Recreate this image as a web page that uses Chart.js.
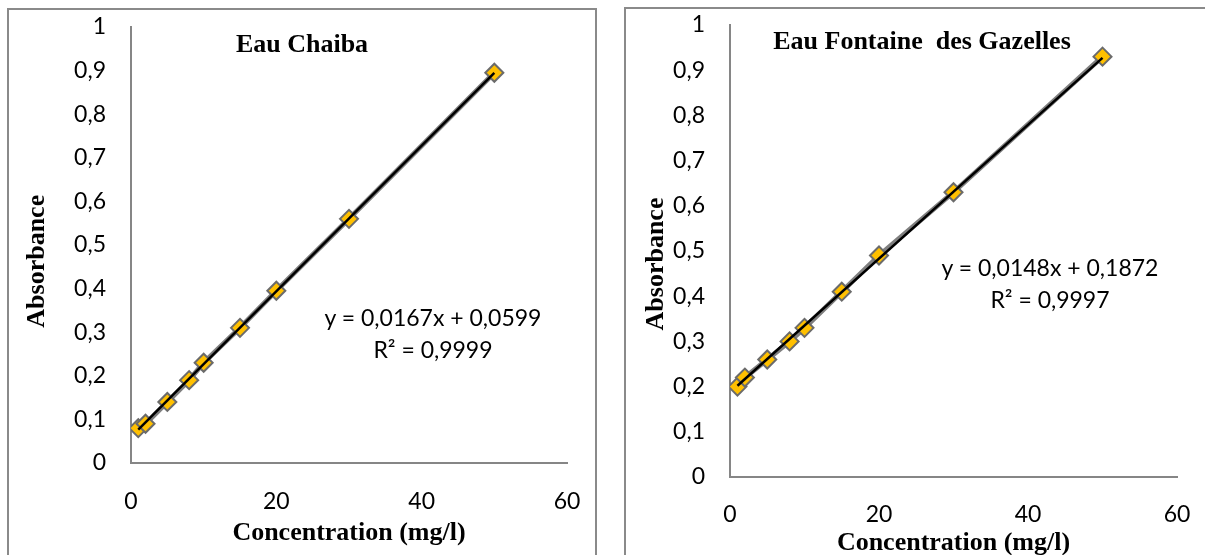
<!DOCTYPE html>
<html lang="fr">
<head>
<meta charset="utf-8">
<title>Courbes d'étalonnage</title>
<script src="https://cdn.jsdelivr.net/npm/chart.js@4.4.1/dist/chart.umd.min.js"></script>
<style>
  html, body { margin: 0; padding: 0; background: #fff; overflow: hidden; width: 1205px; height: 555px; }
  .cadre { position: absolute; box-sizing: border-box; border: 2px solid #8a8a8a; background: #fff; }
  canvas { position: absolute; }
  .equation { position: absolute; width: 300px; text-align: center; font-family: Lato, sans-serif;
              font-size: 23px; color: #000; line-height: 32px; white-space: nowrap; }
</style>
</head>
<body>
<div class="cadre" style="left:7px; top:8px; width:590px; height:575px"></div>
<canvas id="chaiba" width="590" height="575" style="left:7px; top:8px"></canvas>
<div class="cadre" style="left:624px; top:7px; width:596px; height:575px"></div>
<canvas id="gazelles" width="596" height="575" style="left:624px; top:7px"></canvas>
<div class="equation" id="eqChaiba" style="left:283px; top:301px"></div>
<div class="equation" id="eqGazelles" style="left:900px; top:251px"></div>
<script>
// Étalons (mg/l) et absorbances mesurées
const concentrations = [1, 2, 5, 8, 10, 15, 20, 30, 50];
const absChaiba = [0.08, 0.09, 0.14, 0.19, 0.23, 0.31, 0.395, 0.56, 0.895];
const absGazelles = [0.20, 0.22, 0.26, 0.30, 0.33, 0.41, 0.49, 0.63, 0.93];

// Droites de tendance : [pente, ordonnée à l'origine]
const droiteChaiba = [0.0167, 0.0599];
const droiteGazelles = [0.0148, 0.1872];
const r2Chaiba = 0.9999;
const r2Gazelles = 0.9997;

// Graduations des axes
const xTicks = [0, 20, 40, 60];
const yTicks = [0, 0.1, 0.2, 0.3, 0.4, 0.5, 0.6, 0.7, 0.8, 0.9, 1];

const virgule = v => String(v).replace('.', ',');
const policeTicks = { family: 'Lato', size: 23 };
const policeTitre = { family: 'Liberation Serif', size: 26, weight: 'bold' };

function courbe(id, valeurs, droite, titre, mise) {
  const points = concentrations.map((c, i) => ({ x: c, y: valeurs[i] }));
  const bornes = [concentrations[0], concentrations[concentrations.length - 1]];
  const tendance = bornes.map(x => ({ x: x, y: droite[0] * x + droite[1] }));

  return new Chart(document.getElementById(id), {
    type: 'scatter',
    data: {
      datasets: [
        { data: tendance, showLine: true, borderColor: '#000', borderWidth: 2.5,
          pointRadius: 0, order: 0 },
        { data: points, showLine: true, borderColor: '#7f7f7f', borderWidth: 5,
          pointStyle: 'rectRot', pointRadius: 9, pointBackgroundColor: '#ffc000',
          pointBorderColor: '#6b6b6b', pointBorderWidth: 2, order: 1 }
      ]
    },
    options: {
      responsive: false,
      animation: false,
      // marges gauche/droite égales pour centrer le titre sur le cadre
      layout: { padding: mise.padding },
      plugins: {
        legend: { display: false },
        tooltip: { enabled: false },
        title: { display: true, text: titre, color: '#000', font: policeTitre, padding: mise.titrePad }
      },
      scales: {
        x: {
          type: 'linear', min: xTicks[0], max: xTicks[xTicks.length - 1],
          afterBuildTicks: s => { s.ticks = xTicks.map(v => ({ value: v })); },
          afterFit: s => { s.height = mise.hauteurX; },
          // graduations invisibles : elles ne servent qu'à écarter les libellés de l'axe
          grid: { drawOnChartArea: false, tickLength: mise.xTickPad, tickColor: 'transparent' },
          border: { color: '#868686', width: 2 },
          ticks: { padding: 2, color: '#000', font: policeTicks, callback: v => virgule(v) },
          title: { display: true, text: 'Concentration (mg/l)', color: '#000', font: policeTitre,
                   padding: { top: 0, bottom: mise.xTitrePad } }
        },
        y: {
          type: 'linear', min: yTicks[0], max: yTicks[yTicks.length - 1],
          afterBuildTicks: s => { s.ticks = yTicks.map(v => ({ value: v })); },
          afterFit: s => { s.width = mise.largeurY; },
          grid: { drawOnChartArea: false, tickLength: 22, tickColor: 'transparent' },
          border: { color: '#868686', width: 2 },
          ticks: { padding: 3, color: '#000', font: policeTicks,
                   callback: v => virgule(Math.round(v * 10) / 10) },
          title: { display: true, text: 'Absorbance' + ' '.repeat(mise.decalageY), color: '#000',
                   font: policeTitre, padding: { top: mise.yTitrePad, bottom: 0 } }
        }
      }
    }
  });
}

function equation(id, droite, r2) {
  document.getElementById(id).innerHTML =
    'y = ' + virgule(droite[0]) + 'x + ' + virgule(droite[1]) + '<br>R² = ' + virgule(r2);
}

courbe('chaiba', absChaiba, droiteChaiba, 'Eau Chaiba', {
  padding: { left: 30, right: 30, top: 0, bottom: 25 },
  titrePad: { top: 21.4, bottom: -33.6 },
  largeurY: 94, yTitrePad: -15.6, decalageY: 5,
  hauteurX: 95, xTitrePad: 9.4, xTickPad: 23
});
courbe('gazelles', absGazelles, droiteGazelles, 'Eau Fontaine  des Gazelles', {
  padding: { left: 43, right: 43, top: 0, bottom: 10 },
  titrePad: { top: 19.4, bottom: -32.6 },
  largeurY: 63, yTitrePad: -26.6, decalageY: 4,
  hauteurX: 95, xTitrePad: 13.4, xTickPad: 22
});
equation('eqChaiba', droiteChaiba, r2Chaiba);
equation('eqGazelles', droiteGazelles, r2Gazelles);
</script>
</body>
</html>
